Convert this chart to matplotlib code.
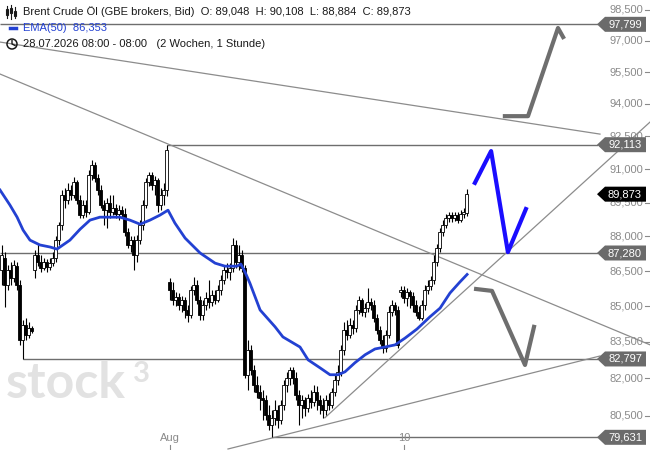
import matplotlib
matplotlib.use("Agg")
import matplotlib.pyplot as plt
from matplotlib.patches import Polygon, Rectangle, Circle
import numpy as np

plt.rcParams['font.family'] = ['Liberation Sans', 'DejaVu Sans']

# hourly candles (one entry per candle)
opens = [86.54, 87.06, 85.90, 86.54, 86.20, 86.71, 85.90, 83.58, 84.21, 83.79,
         84.08, 86.54, 87.19, 86.88, 86.62, 86.88, 86.67, 86.84, 87.06, 87.84,
         88.50, 89.84, 89.61, 90.06, 89.84, 90.42, 89.61, 88.94, 89.39, 89.07,
         90.74, 91.19, 90.60, 90.06, 89.39, 89.16, 89.48, 89.07, 89.25, 88.98,
         89.16, 88.98, 88.19, 87.63, 87.84, 87.19, 87.84, 88.50, 89.39, 90.42,
         90.74, 90.29, 90.51, 89.39, 89.84, 90.06, 86.03, 85.69, 85.26, 85.39,
         85.05, 85.26, 84.84, 84.63, 85.69, 85.90, 85.26, 84.63, 85.05, 85.35,
         85.18, 85.48, 85.26, 85.69, 86.11, 86.54, 86.45, 86.62, 87.63, 86.88,
         87.19, 86.62, 82.15, 83.17, 82.35, 81.74, 81.45, 81.21, 81.13, 80.53,
         80.13, 80.41, 80.73, 80.33, 80.93, 81.74, 82.02, 82.35, 82.02, 81.33,
         80.93, 81.13, 80.81, 81.21, 81.05, 81.45, 81.13, 80.93, 80.73, 81.13,
         80.93, 81.45, 81.94, 82.27, 83.17, 84.00, 83.79, 84.21, 84.08, 84.84,
         85.26, 84.76, 84.92, 85.18, 85.05, 84.50, 84.00, 83.58, 83.25, 83.79,
         84.76, 85.05, 84.84, 85.60, 85.69, 85.35, 85.60, 85.43, 85.05, 84.76,
         84.50, 85.05, 85.69, 85.86, 86.11, 86.88, 87.50, 88.19, 88.50, 88.81,
         88.94, 88.81, 88.94, 88.72, 88.98, 89.048]
highs = [87.63, 87.32, 86.76, 86.88, 86.97, 86.88, 86.11, 84.42, 84.50, 84.34,
         84.17, 87.41, 87.67, 87.19, 87.06, 87.01, 87.06, 87.32, 88.02, 88.63,
         90.06, 90.15, 90.38, 90.29, 90.65, 90.51, 89.84, 89.61, 89.61, 90.96,
         91.41, 91.32, 90.78, 90.29, 89.61, 89.70, 89.84, 89.84, 89.43, 89.39,
         89.34, 89.25, 88.37, 88.02, 88.02, 88.06, 88.72, 89.61, 90.60, 90.87,
         90.87, 90.69, 90.60, 90.15, 90.38, 92.113, 86.20, 86.03, 85.60, 85.56,
         85.43, 85.39, 85.05, 85.86, 86.24, 86.11, 85.43, 85.26, 85.60, 86.11,
         85.69, 85.69, 85.90, 86.33, 86.76, 86.84, 86.84, 87.93, 87.84, 87.63,
         87.41, 86.76, 83.58, 83.38, 82.55, 82.11, 81.74, 81.53, 81.33, 80.93,
         80.73, 81.13, 80.93, 81.13, 81.94, 82.27, 82.47, 82.47, 82.27, 81.53,
         81.33, 81.25, 81.37, 81.53, 81.74, 81.70, 81.33, 81.21, 81.33, 81.41,
         81.61, 82.15, 82.55, 83.38, 84.34, 84.42, 84.50, 84.42, 85.05, 85.43,
         85.35, 85.13, 85.77, 85.35, 85.26, 84.67, 84.17, 83.79, 84.00, 85.01,
         85.26, 85.18, 85.01, 85.86, 85.86, 85.77, 85.69, 85.60, 85.26, 85.01,
         85.26, 85.90, 86.11, 86.28, 87.19, 87.67, 88.37, 88.72, 88.98, 89.07,
         89.07, 89.07, 89.07, 89.16, 89.25, 90.108]
lows = [85.90, 84.97, 85.69, 85.90, 86.03, 85.69, 83.38, 82.797, 83.58, 83.66,
        83.87, 86.20, 86.71, 86.45, 86.54, 86.45, 86.54, 86.71, 86.88, 87.63,
        88.28, 89.25, 89.43, 89.61, 89.70, 89.43, 88.81, 88.81, 88.85, 88.98,
        90.51, 90.42, 89.84, 89.25, 88.50, 88.37, 88.81, 88.94, 88.81, 88.72,
        88.81, 88.02, 87.50, 87.32, 86.54, 86.88, 87.67, 88.28, 89.25, 90.24,
        90.06, 89.84, 89.07, 89.16, 89.39, 89.79, 85.26, 85.05, 85.01, 84.84,
        84.76, 84.50, 84.34, 84.50, 85.48, 85.09, 84.42, 84.42, 84.84, 84.92,
        85.01, 85.09, 85.18, 85.48, 85.94, 86.20, 86.11, 86.45, 86.62, 86.54,
        86.45, 82.02, 81.53, 82.15, 81.45, 81.21, 80.73, 80.33, 80.33, 79.93,
        79.631, 80.13, 80.01, 80.17, 80.73, 81.45, 81.74, 81.78, 81.13, 80.13,
        80.41, 80.49, 80.65, 80.81, 80.89, 80.73, 80.57, 80.41, 80.53, 80.73,
        80.81, 81.29, 81.74, 82.11, 82.97, 83.58, 83.66, 83.83, 83.92, 84.67,
        84.59, 84.55, 84.76, 84.84, 84.34, 83.83, 83.42, 83.05, 83.09, 83.66,
        84.59, 84.63, 83.25, 85.39, 85.13, 85.01, 84.92, 84.76, 84.59, 84.42,
        84.42, 84.84, 85.52, 85.69, 85.94, 86.71, 87.32, 88.02, 88.37, 88.63,
        88.63, 88.68, 88.59, 88.63, 88.81, 88.884]
closes = [87.19, 85.90, 86.54, 86.20, 86.76, 85.90, 83.58, 84.21, 83.79, 84.08,
          83.96, 87.19, 86.88, 86.62, 86.88, 86.67, 86.84, 87.06, 87.84, 88.50,
          89.84, 89.61, 90.06, 89.84, 90.42, 89.61, 88.94, 89.39, 89.07, 90.74,
          91.19, 90.60, 90.06, 89.39, 89.16, 89.48, 89.07, 89.25, 88.98, 89.16,
          88.98, 88.19, 87.63, 87.84, 87.19, 87.84, 88.50, 89.39, 90.42, 90.74,
          90.29, 90.51, 89.39, 89.84, 90.06, 91.87, 85.69, 85.26, 85.39, 85.05,
          85.26, 84.84, 84.63, 85.69, 85.90, 85.26, 84.63, 85.05, 85.35, 85.18,
          85.48, 85.26, 85.69, 86.11, 86.54, 86.45, 86.62, 87.63, 86.88, 87.19,
          86.62, 82.15, 83.17, 82.35, 81.74, 81.45, 81.21, 81.13, 80.53, 80.13,
          80.41, 80.73, 80.33, 80.93, 81.74, 82.02, 82.35, 82.02, 81.33, 80.93,
          81.13, 80.81, 81.21, 81.05, 81.45, 81.13, 80.93, 80.73, 81.13, 80.93,
          81.45, 81.94, 82.27, 83.17, 84.00, 83.79, 84.21, 84.08, 84.84, 85.26,
          84.76, 84.92, 85.18, 85.05, 84.50, 84.00, 83.58, 83.25, 83.79, 84.76,
          85.05, 84.84, 83.38, 85.69, 85.35, 85.60, 85.43, 85.05, 84.76, 84.50,
          85.05, 85.69, 85.86, 86.11, 86.88, 87.50, 88.19, 88.50, 88.81, 88.94,
          88.81, 88.94, 88.72, 88.98, 89.07, 89.873]

# EMA(50) read at sample candles
ema_idx = [-0.5, 2.8, 5.2, 7.2, 9.5, 12.8, 16.2, 18.5, 22.8, 26.2, 29.5, 32.8,
           39.5, 42.8, 46.2, 49.5, 52.8, 55.5, 57.8, 61.2, 66.2, 71.2, 74.5,
           78.5, 79.8, 81.2, 82.8, 86.2, 91.2, 93.8, 99.5, 102.2, 106.2, 109.5,
           112.2, 114.5, 117.8, 121.2, 124.5, 127.8, 131.2, 134.5, 138.5, 142.8,
           146.2, 149.5, 152.8, 155.2]
ema_vals = [90.06, 89.39, 88.85, 88.28, 87.84, 87.63, 87.54, 87.45, 87.84, 88.32,
            88.72, 88.85, 88.85, 88.72, 88.54, 88.72, 88.94, 89.16, 88.59, 87.93,
            87.28, 86.84, 86.71, 86.71, 86.80, 86.45, 85.98, 84.84, 84.13, 83.71,
            83.29, 82.76, 82.43, 82.15, 82.15, 82.27, 82.64, 82.97, 83.21, 83.29,
            83.38, 83.66, 84.04, 84.55, 84.92, 85.56, 86.03, 86.353]

# marked horizontal levels and where they start
levels = [97.799, 92.113, 87.280, 82.797, 79.631]
level_start = [-0.5, 55, -0.5, 7, 90]
last_close = 89.873

# drawn trend lines (candle index, price)
trend_x = [(-0.5, 199.5), (-0.5, 216.2), (75.5, 199.5), (107.8, 216.2)]
trend_y = [(96.94, 92.60), (95.41, 83.38), (79.17, 82.92), (80.41, 93.16)]

# projected paths
blue_x = [157.8, 163.2, 168.8, 174.8]
blue_y = [90.38, 91.82, 87.32, 89.21]
up_x = [167.8, 175.5, 185.5, 187.2]
up_y = [93.43, 93.43, 97.62, 97.18]
down_x = [158.2, 163.5, 174.5, 177.5]
down_y = [85.73, 85.65, 82.55, 84.13]

tick_vals = [98.5, 97.0, 95.5, 94.0, 92.5, 91.0, 89.5, 88.0, 86.5, 85.0, 83.5, 82.0, 80.5]
tick_labels = ["98,500", "97,000", "95,500", "94,000", "92,500", "91,000", "89,500",
               "88,000", "86,500", "85,000", "83,500", "82,000", "80,500"]
date_idx = [56.2, 134.2]
date_labels = ["Aug", "10"]

W, H = 650, 450
fig = plt.figure(figsize=(6.5, 4.5), dpi=100)
fig.patch.set_facecolor('white')

ax = fig.add_axes([0, 0, 598 / W, 1])
ax.set_yscale('log')
ax.set_xlim(-0.5, 598 / 3 - 0.5)
ax.set_ylim(79.13, 98.99)
ax.axis('off')

ov = fig.add_axes([0, 0, 1, 1], zorder=5)
ov.set_xlim(0, W)
ov.set_ylim(H, 0)
ov.axis('off')


def ypx(p):
    return H - ax.transData.transform((0, p))[1]


def xpx(i):
    return ax.transData.transform((i, 85))[0]


# watermark
ax.text(6, 398, "stock", transform=ov.transData, fontsize=36, color='#e2e2e2',
        family='Lato', fontweight='bold', ha='left', va='baseline', zorder=0)
ax.text(133, 382, "3", transform=ov.transData, fontsize=21, color='#e2e2e2',
        family='Lato', fontweight='bold', ha='left', va='baseline', zorder=0)

# levels and trend lines
ax.hlines(levels, level_start, 598 / 3 - 0.5, color='#6e6e6e', lw=1, zorder=2)
for xs, ys in zip(trend_x, trend_y):
    ax.plot(xs, ys, color='#8c8c8c', lw=0.9, clip_on=False, zorder=2)

# candles
x = np.arange(len(closes))
o, h, l, c = map(np.array, (opens, highs, lows, closes))
up = c >= o
ax.vlines(x, l, h, color='black', lw=0.8, zorder=3)
body_lo = np.minimum(o, c)
body_h = np.maximum(np.abs(c - o), 0.02)
ax.bar(x, body_h, bottom=body_lo, width=0.7, color=np.where(up, 'white', 'black'),
       edgecolor='black', linewidth=0.6, zorder=4)

# EMA
ax.plot(ema_idx, ema_vals, color='#2341d2', lw=2, zorder=5)

# projections
ax.plot(blue_x, blue_y, color='#1a0dff', lw=3, clip_on=False, zorder=6)
ax.plot(up_x, up_y, color='#6e6e6e', lw=3, clip_on=False, zorder=6)
ax.plot(down_x, down_y, color='#6e6e6e', lw=3, clip_on=False, zorder=6)

# right price scale (tags sit on top of the nearby scale labels, as in the original)
for v, lab in zip(tick_vals, tick_labels):
    y = ypx(v)
    ov.text(643, y, lab, ha='right', va='center', color='#8a8a8a', fontsize=8)
    ov.plot([645, 649], [y, y], color='#8a8a8a', lw=0.8)

for v in levels + [last_close]:
    y = ypx(v)
    col = 'black' if v == last_close else '#6b6b6b'
    ov.add_patch(Polygon([(597, y), (605, y - 7.5), (646, y - 7.5), (646, y + 7.5), (605, y + 7.5)],
                         closed=True, fc=col, ec='none', zorder=7))
    ov.text(625, y, f"{v:.3f}".replace('.', ','), ha='center', va='center',
            color='white', fontsize=8, zorder=8)

# time axis labels
for i, lab in zip(date_idx, date_labels):
    xp = xpx(i)
    ov.text(xp, 438, lab, ha='center', va='center', color='#8a8a8a', fontsize=8)
    ov.plot([xp, xp], [445, 450], color='#8a8a8a', lw=0.8)

# legend block
ov.text(23, 12, "Brent Crude Öl (GBE brokers, Bid)  O: 89,048  H: 90,108  L: 88,884  C: 89,873",
        ha='left', va='center', color='#1a1a1a', fontsize=8)
ov.text(23, 28, "EMA(50)  86,353", ha='left', va='center', color='#2341d2', fontsize=8)
ov.text(23, 44, "28.07.2026 08:00 - 08:00   (2 Wochen, 1 Stunde)",
        ha='left', va='center', color='#1a1a1a', fontsize=8)

# icons
for k, (top, bot, btop, bbot) in enumerate([(6, 18, 9, 15), (5, 19, 8, 13), (7, 18, 11, 16)]):
    cx = 7 + 4 * k
    ov.plot([cx, cx], [top, bot], color='#1a1a1a', lw=0.8)
    ov.add_patch(Rectangle((cx - 1.3, btop), 2.6, bbot - btop, fc='white', ec='#1a1a1a', lw=0.8))
ov.plot([10, 16], [28, 28], color='#2341d2', lw=2.5)
ov.add_patch(Circle((12, 44), 5, fill=False, ec='#1a1a1a', lw=1.1))
ov.plot([12, 12, 15], [40.5, 44, 45.5], color='#1a1a1a', lw=1)

fig.savefig("out.png", dpi=100, facecolor='white')
